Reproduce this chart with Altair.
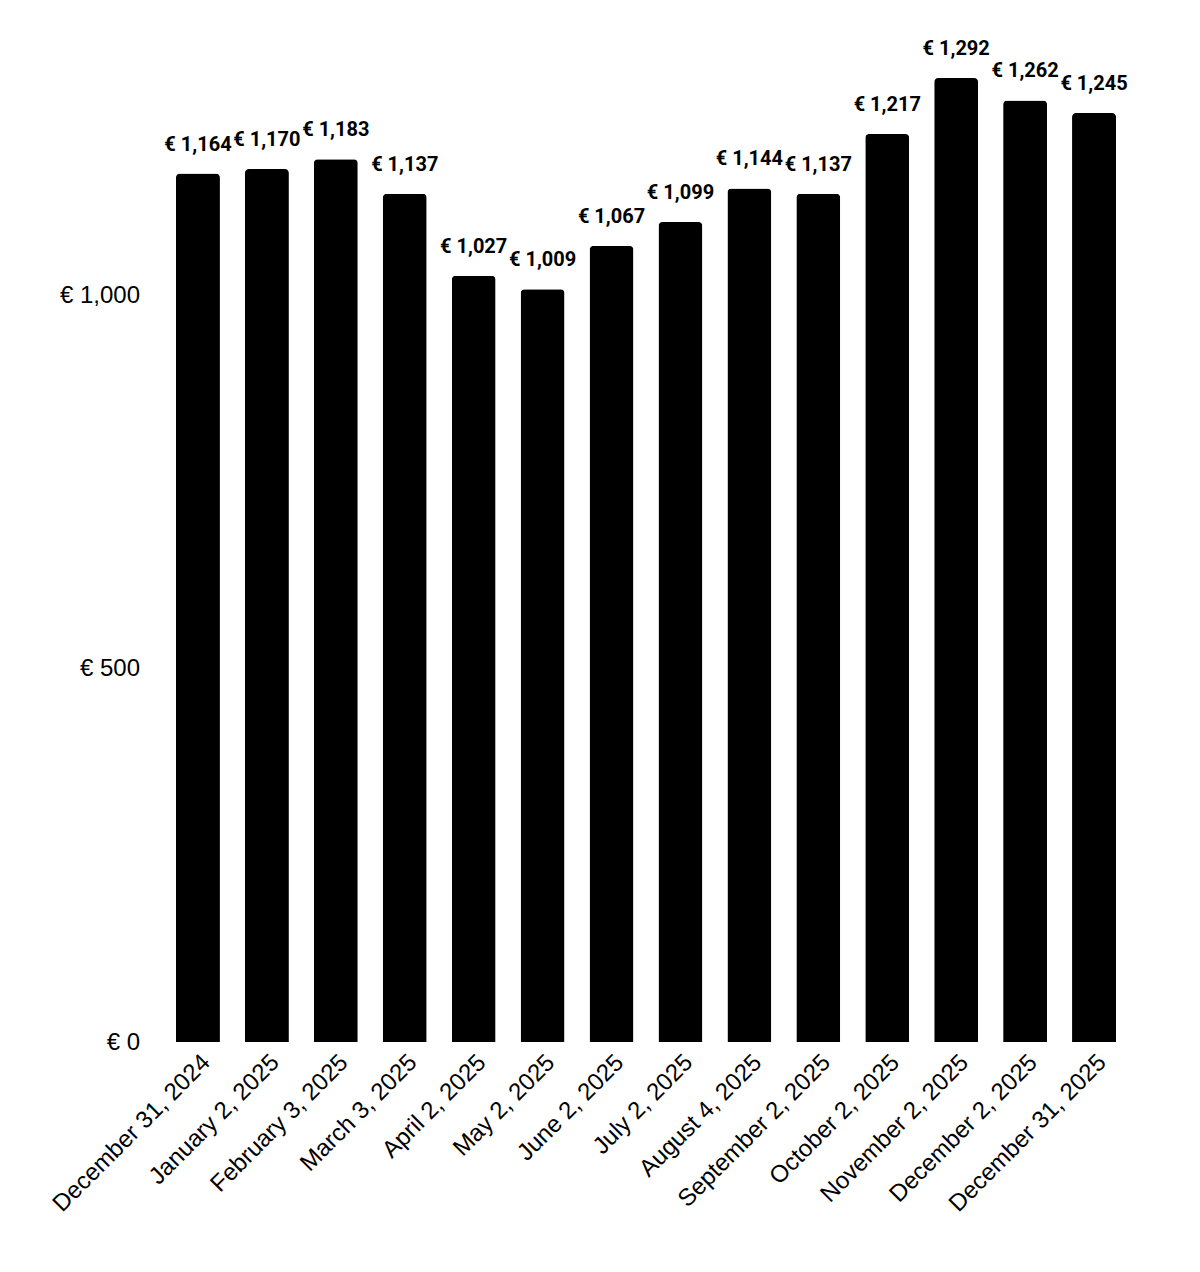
import altair as alt
import pandas as pd

dates = ["December 31, 2024", "January 2, 2025", "February 3, 2025", "March 3, 2025",
         "April 2, 2025", "May 2, 2025", "June 2, 2025", "July 2, 2025",
         "August 4, 2025", "September 2, 2025", "October 2, 2025", "November 2, 2025",
         "December 2, 2025", "December 31, 2025"]
values = [1164, 1170, 1183, 1137, 1027, 1009, 1067, 1099, 1144, 1137, 1217, 1292, 1262, 1245]
y_ticks = [0, 500, 1000]

df = pd.DataFrame({"date": dates, "value": values})

x = alt.X("date:N", sort=dates, title=None,
          scale=alt.Scale(paddingInner=0.362, paddingOuter=0.181),
          axis=alt.Axis(labelAngle=-45, labelFont="Liberation Sans", labelFontSize=24,
                        labelColor="black", domain=False, ticks=False, tickSize=0,
                        labelPadding=8, grid=False, labelLimit=0))
y = alt.Y("value:Q", title=None,
          scale=alt.Scale(domain=[0, 1292], nice=False, zero=True),
          axis=alt.Axis(values=y_ticks, labelExpr="'€ ' + format(datum.value, ',')",
                        labelFont="Liberation Sans", labelFontSize=24, labelColor="black",
                        domain=False, ticks=False, tickSize=0, labelPadding=24, grid=False))

base = alt.Chart(df).encode(x=x, y=y)

bars = base.mark_bar(color="black", cornerRadiusTopLeft=4, cornerRadiusTopRight=4)
labels = base.transform_calculate(
    label="'€ ' + format(datum.value, ',')"
).mark_text(font="Roboto", fontWeight="bold", fontSize=20, color="black",
            baseline="alphabetic", align="center", dy=-23).encode(text="label:N")

chart = (bars + labels).properties(
    width=965, height=964,
    autosize=alt.AutoSizeParams(type="none"),
    padding={"left": 155.5, "top": 70, "right": 60, "bottom": 220},
    background="white",
).configure_view(strokeWidth=0, stroke=None)

chart.save("out.html", embed_options={"renderer": "svg", "actions": False})
